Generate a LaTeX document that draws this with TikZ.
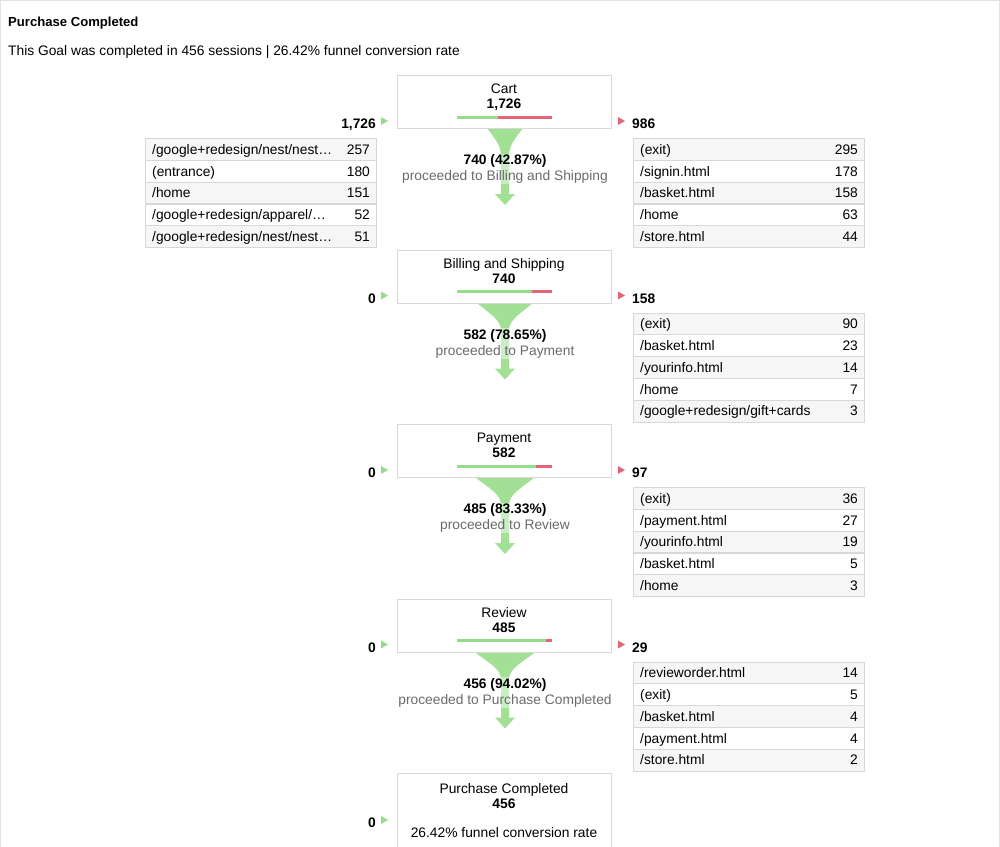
\documentclass[tikz,border=0pt]{standalone}
\usepackage{fontspec}
\setmainfont{Liberation Sans}
\usetikzlibrary{calc,positioning}

\definecolor{framegray}{HTML}{E2E2E2}
\definecolor{linegray}{HTML}{D8D8D8}
\definecolor{rowgray}{HTML}{F6F6F6}
\definecolor{textgray}{HTML}{6B6B6B}
\definecolor{funnelgreen}{HTML}{A2E096}
\definecolor{bargreen}{HTML}{95DC8B}
\definecolor{barred}{HTML}{E26677}

\tikzset{
  txt/.style={font=\fontsize{13.8}{16}\selectfont,inner sep=0pt,text height=9.5pt,text depth=0pt},
  boldtxt/.style={txt,font=\fontsize{13.8}{16}\selectfont\bfseries},
  stepbox/.style={draw=linegray,line width=1pt,fill=white,minimum width=214pt,minimum height=53pt,inner sep=0pt},
  bar/.style={line width=3pt},
  tablerow/.style={draw=linegray,line width=1.1pt,minimum width=231pt,minimum height=21.8pt,inner sep=0pt},
  proceed/.style={font=\fontsize{13.8}{16}\selectfont,align=center,fill=white,fill opacity=0.45,text opacity=1,inner sep=1pt},
}

% table of pages: name, left x, top y, list of label/value
\newcommand{\pagetable}[4]{%
  \foreach \lab/\val [count=\i] in {#4} {
    \ifodd\i \def\rowcol{rowgray}\else\def\rowcol{white}\fi
    \node[tablerow,fill=\rowcol,anchor=north west] (#1-\i) at (#2,{#3+(\i-1)*21.8}) {};
    \node[txt,anchor=west] at ([xshift=7pt]#1-\i.west) {\lab};
    \node[txt,anchor=east] at ([xshift=-7pt]#1-\i.east) {\val};
  }}
% funnel below a step box, half width at top
\newcommand{\funnel}[1]{%
  \fill[funnelgreen] (505-#1,53) .. controls (505-0.55*#1,64) and (501,70) .. (501,81)
    -- (501,119) -- (495,119) -- (505,130) -- (515,119) -- (509,119) -- (509,81)
    .. controls (509,70) and (505+0.55*#1,64) .. (505+#1,53) -- cycle;}

\begin{document}
\begin{tikzpicture}[x=1pt,y=-1pt]
\useasboundingbox (0,0) rectangle (1000,846);
\clip (0,0) rectangle (1000,846);
\fill[white] (0,0) rectangle (1000,846);
\draw[framegray] (0.5,850) -- (0.5,0.5) -- (999.5,0.5) -- (999.5,850);
% ---- header ----
\node[font=\fontsize{13.1}{15}\selectfont\bfseries,inner sep=0pt,text height=9.5pt,text depth=0pt,anchor=west] (title) at (8,21.5) {Purchase Completed};
\node[txt,anchor=west] (summary) at (8,50.5) {This Goal was completed in 456 sessions | 26.42\% funnel conversion rate};
% ---- step 1: Cart ----
\begin{scope}[yshift=-75pt]
  \funnel{18}
  \node[stepbox,anchor=north] (cart) at (504,0) {};
  \node[txt] at (504,14) {Cart};
  \node[boldtxt] at (504,29) {1,726};
  \draw[bar,bargreen] (457,42) -- (498,42);
  \draw[bar,barred] (498,42) -- (552,42);
  \node[boldtxt,anchor=east] (cart-in) at (376,49) {1,726};
  \fill[bargreen] (381,42) -- (388,46) -- (381,50) -- cycle;
  \fill[barred] (618,42) -- (625,46) -- (618,50) -- cycle;
  \node[boldtxt,anchor=west] (cart-out) at (632,49) {986};
  \node[proceed] (cart-next) at (505,94) {{\bfseries 740 (42.87\%)}\\{\color{textgray}proceeded to Billing and Shipping}};
  \pagetable{cart-src}{145}{63}{{/google+redesign/nest/nest…}/257, {(entrance)}/180, {/home}/151, {/google+redesign/apparel/…}/52, {/google+redesign/nest/nest…}/51}
  \pagetable{cart-exit}{633}{63}{{(exit)}/295, {/signin.html}/178, {/basket.html}/158, {/home}/63, {/store.html}/44}
\end{scope}
% ---- step 2: Billing and Shipping ----
\begin{scope}[yshift=-249.5pt]
  \funnel{28.5}
  \node[stepbox,anchor=north] (billing) at (504,0) {};
  \node[txt] at (504,14) {Billing and Shipping};
  \node[boldtxt] at (504,29) {740};
  \draw[bar,bargreen] (457,42) -- (532,42);
  \draw[bar,barred] (532,42) -- (552,42);
  \node[boldtxt,anchor=east] (billing-in) at (376,49) {0};
  \fill[bargreen] (381,42) -- (388,46) -- (381,50) -- cycle;
  \fill[barred] (618,42) -- (625,46) -- (618,50) -- cycle;
  \node[boldtxt,anchor=west] (billing-out) at (632,49) {158};
  \node[proceed] (billing-next) at (505,94) {{\bfseries 582 (78.65\%)}\\{\color{textgray}proceeded to Payment}};
  \pagetable{billing-exit}{633}{63}{{(exit)}/90, {/basket.html}/23, {/yourinfo.html}/14, {/home}/7, {/google+redesign/gift+cards}/3}
\end{scope}
% ---- step 3: Payment ----
\begin{scope}[yshift=-424pt]
  \funnel{30}
  \node[stepbox,anchor=north] (payment) at (504,0) {};
  \node[txt] at (504,14) {Payment};
  \node[boldtxt] at (504,29) {582};
  \draw[bar,bargreen] (457,42) -- (536,42);
  \draw[bar,barred] (536,42) -- (552,42);
  \node[boldtxt,anchor=east] (payment-in) at (376,49) {0};
  \fill[bargreen] (381,42) -- (388,46) -- (381,50) -- cycle;
  \fill[barred] (618,42) -- (625,46) -- (618,50) -- cycle;
  \node[boldtxt,anchor=west] (payment-out) at (632,49) {97};
  \node[proceed] (payment-next) at (505,94) {{\bfseries 485 (83.33\%)}\\{\color{textgray}proceeded to Review}};
  \pagetable{payment-exit}{633}{63}{{(exit)}/36, {/payment.html}/27, {/yourinfo.html}/19, {/basket.html}/5, {/home}/3}
\end{scope}
% ---- step 4: Review ----
\begin{scope}[yshift=-598.5pt]
  \funnel{31}
  \node[stepbox,anchor=north] (review) at (504,0) {};
  \node[txt] at (504,14) {Review};
  \node[boldtxt] at (504,29) {485};
  \draw[bar,bargreen] (457,42) -- (546,42);
  \draw[bar,barred] (546,42) -- (552,42);
  \node[boldtxt,anchor=east] (review-in) at (376,49) {0};
  \fill[bargreen] (381,42) -- (388,46) -- (381,50) -- cycle;
  \fill[barred] (618,42) -- (625,46) -- (618,50) -- cycle;
  \node[boldtxt,anchor=west] (review-out) at (632,49) {29};
  \node[proceed] (review-next) at (505,94) {{\bfseries 456 (94.02\%)}\\{\color{textgray}proceeded to Purchase Completed}};
  \pagetable{review-exit}{633}{63}{{/revieworder.html}/14, {(exit)}/5, {/basket.html}/4, {/payment.html}/4, {/store.html}/2}
\end{scope}
% ---- goal: Purchase Completed ----
\begin{scope}[yshift=-773pt]
  \node[stepbox,anchor=north,minimum height=90pt] (goal) at (504,0) {};
  \node[txt] at (504,15.5) {Purchase Completed};
  \node[boldtxt] at (504,30.5) {456};
  \node[boldtxt,anchor=east] (goal-in) at (376,50) {0};
  \fill[bargreen] (381,43) -- (388,47) -- (381,51) -- cycle;
  \node[txt] at (504,59.5) {26.42\% funnel conversion rate};
\end{scope}
\end{tikzpicture}
\end{document}
